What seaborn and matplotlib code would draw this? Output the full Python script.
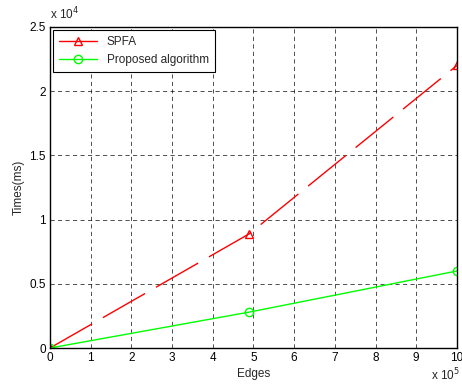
import numpy as np
import pandas as pd
import seaborn as sns
import matplotlib
matplotlib.use("Agg")
import matplotlib.pyplot as plt
from matplotlib.ticker import FuncFormatter

edges = [0, 490000, 1000000]
spfa = [0, 8900, 22000]
proposed = [0, 2800, 6000]

df = pd.DataFrame({"Edges": edges * 2,
                   "Times": spfa + proposed,
                   "method": ["SPFA"] * 3 + ["Proposed algorithm"] * 3})

sns.set_style("white")
plt.rcParams['font.family'] = ['Liberation Sans', 'DejaVu Sans']
plt.rcParams['font.size'] = 8.5

fig = plt.figure(figsize=(4.62, 3.85), dpi=100)
ax = fig.add_axes([0.108, 0.096, 0.881, 0.834])

sns.lineplot(data=df[df.method == "SPFA"], x="Edges", y="Times", ax=ax,
             color="red", lw=1, marker="^", markersize=6, markerfacecolor="none",
             markeredgecolor="red", markeredgewidth=1, label="SPFA")
sns.lineplot(data=df[df.method == "Proposed algorithm"], x="Edges", y="Times", ax=ax,
             color="#00ff00", lw=1, marker="o", markersize=6, markerfacecolor="none",
             markeredgecolor="#00ff00", markeredgewidth=1, label="Proposed algorithm")
ax.lines[0].set_dashes([35, 9])

ax.set_xlim(0, 1000000)
ax.set_ylim(0, 25000)
ax.set_xticks(np.arange(0, 1000001, 100000))
ax.set_yticks(np.arange(0, 25001, 5000))
ax.xaxis.set_major_formatter(FuncFormatter(lambda v, p: f"{v/1e5:g}"))
ax.yaxis.set_major_formatter(FuncFormatter(lambda v, p: f"{v/1e4:g}"))
ax.grid(True, color="black", linestyle=(0, (5, 4)), lw=0.6, alpha=0.8)
ax.tick_params(direction="in", length=3, colors="black", labelsize=8.5, pad=3)
for s in ax.spines.values():
    s.set_color("black")
    s.set_linewidth(1)
ax.set_xlabel("Edges", fontsize=8.5, labelpad=3)
ax.set_ylabel("Times(ms)", fontsize=8.5, labelpad=3)
ax.text(0, 1.015, r"x 10$^{4}$", transform=ax.transAxes, fontsize=8.5, va="bottom")
fig.text(0.995, 0.005, r"x 10$^{5}$", fontsize=8.5, va="bottom", ha="right")

leg = ax.legend(loc="upper left", fontsize=8.5, frameon=True, fancybox=False,
                edgecolor="black", framealpha=1, borderaxespad=0.3, handlelength=3.2,
                labelspacing=0.5, borderpad=0.5)
leg.get_frame().set_linewidth(0.8)
leg.get_lines()[0].set_linestyle("-")

fig.savefig("out.png", dpi=100)
